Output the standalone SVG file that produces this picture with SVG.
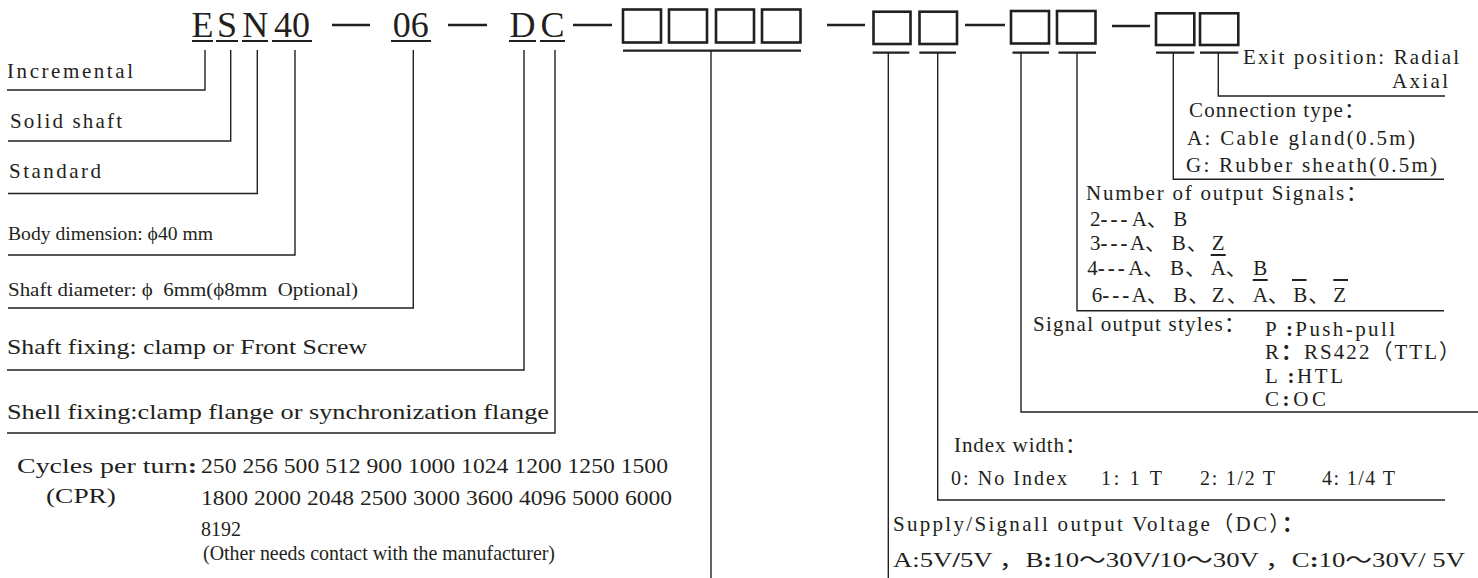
<svg xmlns="http://www.w3.org/2000/svg" width="1478" height="578" viewBox="0 0 1478 578">
<style>
.t{font-family:"Liberation Serif","Times New Roman","Noto Sans CJK SC",serif;font-size:21px;fill:#231f20}
.s{font-size:19px}
.m{font-size:20px}
.c{font-size:22px}
.code{font-size:36px;text-anchor:middle}
.b{font-weight:bold}
.d{font-weight:bold;letter-spacing:3px}
.ln{stroke:#231f20;stroke-width:1.4;fill:none}
.ul{stroke:#231f20;stroke-width:2.2;fill:none}
.dash{stroke:#231f20;stroke-width:2.6;fill:none}
.box{stroke:#231f20;stroke-width:2.6;fill:none}
</style>
<rect width="1478" height="578" fill="#ffffff"/>

<g id="code">
  <text class="t code" x="202.5" y="37">E</text>
  <text class="t code" x="227" y="37">S</text>
  <text class="t code" x="255.3" y="37">N</text>
  <text class="t code" x="292" y="37">40</text>
  <text class="t code" x="410.7" y="37">06</text>
  <text class="t code" x="522.5" y="37">D</text>
  <text class="t code" x="552.5" y="37">C</text>
  <path class="ul" d="M192,41H213M216,41H238M242,41H268M272,41H312M391,41H431M509,41H536M540,41H565"/>
  <path class="dash" d="M332,25H370M448,25H487M573,25H612M827,25H865M965,25H1005M1112,26H1150"/>
  <rect class="box" x="623" y="9.5" width="38" height="33"/>
  <rect class="box" x="669" y="9.5" width="38" height="33"/>
  <rect class="box" x="716" y="9.5" width="38" height="33"/>
  <rect class="box" x="762" y="9.5" width="38.5" height="33"/>
  <rect class="box" x="873.5" y="11.7" width="37" height="32.3"/>
  <rect class="box" x="919.5" y="11.7" width="37.5" height="32.3"/>
  <rect class="box" x="1011" y="11" width="38" height="32.5"/>
  <rect class="box" x="1057" y="11" width="38.5" height="32.5"/>
  <rect class="box" x="1156" y="13.3" width="38.3" height="31.7"/>
  <rect class="box" x="1200" y="13.3" width="38.3" height="31.7"/>
  <path class="ul" d="M623,50.7H801M872.7,52.7H909.3M919.3,52.7H956M1012.5,52.7H1049M1058.5,52.7H1096M1156,52.7H1194.3M1200,52.7H1238.3"/>
</g>

<g id="connectors">
  <path class="ln" d="M7,90H205V50"/>
  <path class="ln" d="M8,141H230.7V50"/>
  <path class="ln" d="M8,193.5H257.3V50"/>
  <path class="ln" d="M8,255H295V50"/>
  <path class="ln" d="M8,308H413.3V50"/>
  <path class="ln" d="M7,370H524V50"/>
  <path class="ln" d="M7,433H555V50"/>
  <path class="ln" d="M711,50.7V578"/>
  <path class="ln" d="M888.3,52.7V578"/>
  <path class="ln" d="M937.7,52.7V500H1445"/>
  <path class="ln" d="M1021,52.7V412H1478"/>
  <path class="ln" d="M1077,52.7V310.7H1444"/>
  <path class="ln" d="M1173.3,52.7V179.3H1444"/>
  <path class="ln" d="M1218.3,52.7V96H1445"/>
</g>

<g id="incremental"><text class="t" x="7" y="78" textLength="126">Incremental</text></g>
<g id="solid-shaft"><text class="t" x="10" y="128" textLength="112">Solid shaft</text></g>
<g id="standard"><text class="t" x="9" y="178" textLength="92">Standard</text></g>
<g id="body-dimension"><text class="t s" x="8" y="240" textLength="205" lengthAdjust="spacingAndGlyphs">Body dimension: ϕ40 mm</text></g>
<g id="shaft-diameter"><text class="t s" x="8" y="296" textLength="350" lengthAdjust="spacingAndGlyphs" xml:space="preserve">Shaft diameter: ϕ  6mm(ϕ8mm  Optional)</text></g>
<g id="shaft-fixing"><text class="t" x="7" y="354" textLength="360" lengthAdjust="spacingAndGlyphs">Shaft fixing: clamp or Front Screw</text></g>
<g id="shell-fixing"><text class="t" x="7" y="419" textLength="542" lengthAdjust="spacingAndGlyphs">Shell fixing:clamp flange or synchronization flange</text></g>

<g id="cycles">
  <text class="t c" x="17" y="473" textLength="180" lengthAdjust="spacingAndGlyphs">Cycles per turn<tspan class="b">:</tspan></text>
  <text class="t c" x="46" y="503" textLength="70" lengthAdjust="spacingAndGlyphs">(CPR)</text>
  <text class="t c" x="201" y="473" textLength="467" lengthAdjust="spacingAndGlyphs">250 256 500 512 900 1000 1024 1200 1250 1500</text>
  <text class="t c" x="201" y="505" textLength="471" lengthAdjust="spacingAndGlyphs">1800 2000 2048 2500 3000 3600 4096 5000 6000</text>
  <text class="t c" x="201" y="536" textLength="40" lengthAdjust="spacingAndGlyphs">8192</text>
  <text class="t" x="203" y="560" textLength="352" lengthAdjust="spacingAndGlyphs">(Other needs contact with the manufacturer)</text>
</g>

<g id="exit-position">
  <text class="t" x="1243" y="64" textLength="216">Exit position: Radial</text>
  <text class="t" x="1392" y="88" textLength="56">Axial</text>
</g>

<g id="connection-type">
  <text class="t" x="1189" y="117" textLength="176">Connection type：</text>
  <text class="t" x="1187" y="145" textLength="228">A: Cable gland(0.5m)</text>
  <text class="t" x="1186" y="172" textLength="251">G: Rubber sheath(0.5m)</text>
</g>

<g id="output-signals">
  <text class="t" x="1086" y="200" textLength="281">Number of output Signals：</text>
  <text class="t" y="226"><tspan x="1090">2</tspan><tspan class="d">---</tspan><tspan x="1131.7">A</tspan><tspan x="1146.7">、</tspan><tspan x="1173.3">B</tspan></text>
  <text class="t" y="250"><tspan x="1090">3</tspan><tspan class="d">---</tspan><tspan x="1130">A</tspan><tspan x="1145">、</tspan><tspan x="1171.7">B</tspan><tspan x="1186.7">、</tspan><tspan x="1211.7">Z</tspan></text>
  <text class="t" y="275"><tspan x="1087.3">4</tspan><tspan class="d">---</tspan><tspan x="1128.3">A</tspan><tspan x="1143.3">、</tspan><tspan x="1170">B</tspan><tspan x="1185">、</tspan><tspan x="1210.7">A</tspan><tspan x="1225.7">、</tspan><tspan x="1253.3">B</tspan></text>
  <text class="t" y="302"><tspan x="1091.7">6</tspan><tspan class="d">---</tspan><tspan x="1131.7">A</tspan><tspan x="1146.7">、</tspan><tspan x="1173.3">B</tspan><tspan x="1188.3">、</tspan><tspan x="1211.7">Z</tspan><tspan x="1226.7">、</tspan><tspan x="1252.7">A</tspan><tspan x="1267.7">、</tspan><tspan x="1293.3">B</tspan><tspan x="1308.3">、</tspan><tspan x="1333.3">Z</tspan></text>
  <path class="ul" d="M1210.7,255H1225.7M1252.7,280H1267.7M1292,280H1306.5M1333.3,280H1348"/>
</g>

<g id="signal-output-styles">
  <text class="t" x="1033" y="331" textLength="212">Signal output styles：</text>
  <text class="t" x="1265" y="336" textLength="130"><tspan>P </tspan><tspan class="b">:</tspan>Push-pull</text>
  <text class="t" x="1265" y="359" textLength="195">R<tspan class="b">：</tspan>RS422（TTL）</text>
  <text class="t" x="1265" y="383" textLength="78">L <tspan class="b">:</tspan>HTL</text>
  <text class="t" x="1265" y="406" textLength="61">C<tspan class="b">:</tspan>OC</text>
</g>

<g id="index-width">
  <text class="t" x="954" y="452" textLength="132">Index width：</text>
  <text class="t m" x="951" y="485" textLength="116">0: No Index</text>
  <text class="t m" x="1101" y="485" textLength="61">1: 1 T</text>
  <text class="t m" x="1200" y="485" textLength="75">2: 1/2 T</text>
  <text class="t m" x="1322" y="485" textLength="73">4: 1/4 T</text>
</g>

<g id="supply-voltage">
  <text class="t" x="893" y="531" textLength="410">Supply/Signall output Voltage（DC）<tspan class="b">：</tspan></text>
  <text class="t" x="893" y="567" textLength="572" lengthAdjust="spacingAndGlyphs">A:5V<tspan class="b">/</tspan>5V ，B<tspan class="b">:</tspan>10～30V<tspan class="b">/</tspan>10～30V  ，C<tspan class="b">:</tspan>10～30V/ 5V</text>
</g>
</svg>
